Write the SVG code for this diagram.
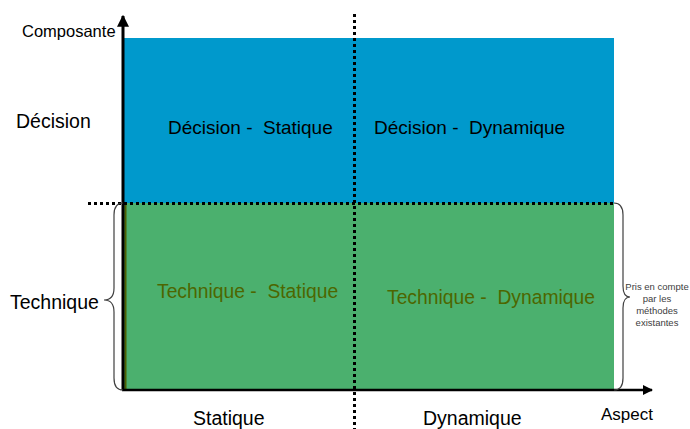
<svg xmlns="http://www.w3.org/2000/svg" width="690" height="429" viewBox="0 0 690 429">
<defs>
<style>
text{font-family:"Liberation Sans",Arial,sans-serif;white-space:pre;}
.lbl{font-size:19px;fill:#000;}
.tech{font-size:19.3px;fill:#4D6600;}
.ax{font-size:19.5px;fill:#000;}
.small{font-size:9.5px;fill:#404040;text-anchor:middle;}
.dot{stroke:#000;stroke-width:3;stroke-dasharray:3 3;fill:none;}
.brace{stroke:#404040;stroke-width:1.2;fill:none;}
</style>
<marker id="ah" viewBox="0 0 10 10" refX="9" refY="5" markerWidth="4" markerHeight="4" orient="auto">
<path d="M0,0 L10,5 L0,10 z" fill="#000"/>
</marker>
</defs>
<rect width="690" height="429" fill="#fff"/>
<g id="decision-zone">
<rect x="124" y="38" width="490" height="165" fill="#0099CC"/>
<text class="lbl" x="168" y="134" xml:space="preserve">Décision -  Statique</text>
<text class="lbl" x="374" y="134" xml:space="preserve">Décision -  Dynamique</text>
</g>
<g id="technique-zone">
<rect x="124" y="203" width="490" height="187" fill="#4BB06E"/>
<line x1="125.5" y1="203" x2="125.5" y2="389" stroke="#4D5E00" stroke-width="2"/>
<text class="tech" x="157" y="298" xml:space="preserve">Technique -  Statique</text>
<text class="tech" x="387" y="304" xml:space="preserve">Technique -  Dynamique</text>
</g>
<g id="connectors">
<line x1="123" y1="390" x2="123" y2="16" stroke="#000" stroke-width="3" marker-end="url(#ah)"/>
<line x1="122" y1="390" x2="652" y2="390" stroke="#000" stroke-width="2.5" marker-end="url(#ah)"/>
<line x1="88" y1="203.5" x2="614" y2="203.5" class="dot"/>
<line x1="354.5" y1="14" x2="354.5" y2="429" class="dot"/>
<path class="brace" d="M123,203 Q114,203 114,215 L114,288 Q114,300 104,300 Q114,300 114,312 L114,378 Q114,390 123,390"/>
<path class="brace" d="M614,203 Q623,203 623,215 L623,286 Q623,297 630,297 Q623,297 623,308 L623,378 Q623,390 614,390"/>
</g>
<g id="labels">
<text x="22" y="37" font-size="16.5">Composante</text>
<text class="ax" x="16" y="128">Décision</text>
<text class="ax" x="10" y="309">Technique</text>
<text class="ax" x="193" y="425">Statique</text>
<text class="ax" x="423" y="425">Dynamique</text>
<text x="601" y="420" font-size="17">Aspect</text>
<text class="small" x="657" y="290">Pris en compte</text>
<text class="small" x="657" y="302">par les</text>
<text class="small" x="657" y="314">méthodes</text>
<text class="small" x="657" y="326">existantes</text>
</g>
</svg>
